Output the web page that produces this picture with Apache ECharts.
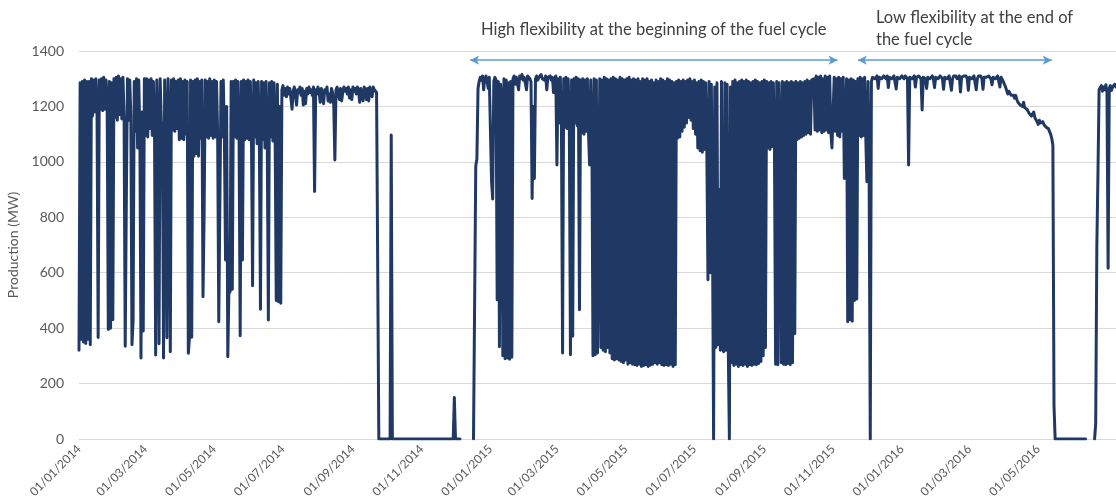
<!DOCTYPE html>
<html>
<head>
<meta charset="utf-8">
<script src="https://cdn.jsdelivr.net/npm/echarts@6/dist/echarts.min.js"></script>
<style>
  html, body { margin: 0; padding: 0; background: #fff; }
  #chart { width: 1116px; height: 504px; }
</style>
</head>
<body>
<div id="chart"></div>
<script>
// net production (MW), one value per day counted from the start date
const cycle2014Start = '2014-01-01'
const cycle2014 = [
  320, 1285, 360, 1290, 350, 1295, 345, 1290, 360, 1290,
  340, 1300, 1165, 1295, 1180, 1300, 1175, 366, 1295, 1190,
  1300, 1185, 1305, 1190, 1295, 1200, 395, 1290, 400, 1285,
  430, 1300, 1160, 1305, 1150, 1310, 1170, 1300, 1155, 1305,
  1160, 335, 870, 1300, 1150, 1295, 1165, 340, 430, 1290,
  1110, 1300, 1050, 1295, 1100, 292, 1180, 390, 1300, 1095,
  1300, 1090, 1295, 1120, 1300, 1095, 1290, 1110, 303, 1295,
  1115, 344, 1300, 1150, 1120, 292, 1295, 1115, 365, 1300,
  1120, 315, 1295, 1115, 1300, 1110, 1290, 1120, 1295, 1080,
  1300, 1085, 1290, 1080, 1295, 1100, 1290, 309, 367, 1295,
  367, 1290, 1020, 1295, 1030, 1300, 1020, 1290, 1085, 1295,
  513, 808, 1295, 1090, 1290, 1085, 1300, 1095, 1290, 1085,
  1295, 1090, 1290, 1100, 423, 425, 1290, 1090, 1295, 1085,
  646, 1200, 297, 540, 530, 1290, 540, 1290, 1091, 1295,
  1085, 1290, 1095, 373, 1290, 646, 1295, 1080, 1290, 1085,
  1295, 1080, 1290, 1090, 553, 1295, 1090, 1285, 1065, 1290,
  1080, 468, 1290, 1080, 1285, 1050, 1290, 1075, 429, 1285,
  1090, 1290, 1075, 1285, 1095, 500, 1280, 495, 1200, 490,
  1260, 1275, 1240, 1265, 1235, 1270, 1245, 1265, 1230, 1190,
  1255, 1270, 1240, 1205, 1260, 1250, 1270, 1240, 1265, 1205,
  1255, 1210, 1265, 1245, 1270, 1250, 1260, 1240, 1270, 893,
  1260, 1245, 1270, 1250, 1215, 1265, 1240, 1210, 1260, 1250,
  1270, 1220, 1245, 1215, 1265, 1250, 1205, 1007, 1260, 1270,
  1245, 1225, 1265, 1220, 1250, 1270, 1255, 1265, 1245, 1270,
  1230, 1260, 1225, 1270, 1255, 1265, 1245, 1270, 1260, 1215,
  1265, 1250, 1220, 1270, 1260, 1225, 1265, 1220, 1270, 1255,
  1235, 1270, 1260, 1265, 1250, 1255
]
// refuelling outage: [date, MW], null = no record
const outage2014 = [
  ['2014-09-24', 0], ['2014-10-04', 0], ['2014-10-05', 1097], ['2014-10-06', 0],
  ['2014-11-29', 0], ['2014-11-30', 150], ['2014-12-01', 0], ['2014-12-05', 0],
  ['2014-12-06', null]
]
const cycle2015Start = '2014-12-17'
const cycle2015 = [
  0, 495, 985, 1010, 1265, 1290, 1305, 1295, 1310, 1260,
  1300, 1310, 1295, 1265, 1305, 1300, 930, 866, 1290, 1305,
  1295, 502, 1290, 333, 1280, 1230, 300, 1300, 290, 1295,
  292, 1285, 288, 1290, 295, 1300, 1310, 1280, 1305, 1300,
  1260, 1310, 1300, 1315, 1295, 1305, 1300, 1260, 1310, 1305,
  1300, 1290, 868, 1200, 940, 1300, 1310, 1295, 1305, 1300,
  1315, 1300, 1305, 1295, 1310, 1260, 1305, 1300, 1310, 1295,
  1305, 1250, 1300, 1310, 989, 1300, 1140, 1305, 1130, 310,
  1300, 1125, 1305, 1120, 1300, 1135, 304, 1295, 371, 1300,
  1140, 1305, 1130, 1300, 466, 1295, 1105, 1300, 1100, 1295,
  1110, 1300, 1105, 989, 1295, 1100, 300, 1300, 304, 1295,
  310, 304, 1300, 330, 1295, 320, 1305, 315, 1300, 330,
  1295, 310, 1300, 290, 1305, 285, 1300, 290, 1295, 285,
  1305, 280, 1300, 275, 1295, 285, 1300, 270, 1305, 275,
  1295, 270, 1300, 268, 1295, 265, 1300, 270, 1290, 262,
  1300, 265, 1295, 268, 1300, 262, 1290, 266, 1295, 270,
  1285, 275, 1295, 270, 1290, 275, 1300, 268, 1295, 265,
  1290, 268, 1300, 265, 1295, 270, 1290, 262, 1285, 268,
  1290, 1085, 1295, 1090, 1290, 1110, 1295, 1125, 1290, 1140,
  1295, 1160, 1300, 1150, 1290, 1120, 1295, 1100, 1285, 1050,
  1290, 1040, 1295, 1035, 1290, 1045, 1285, 1040, 575, 1290,
  600, 1280, 760, 0, 1270, 330, 1285, 340, 900, 320,
  1290, 325, 315, 1285, 320, 1280, 330, 0, 1270, 275,
  1290, 265, 1295, 270, 1285, 262, 1290, 268, 1295, 265,
  1290, 270, 1295, 262, 1290, 268, 1285, 265, 1290, 270,
  1295, 268, 1290, 272, 1285, 280, 1290, 300, 1295, 330,
  1290, 1050, 1285, 1045, 1290, 1055, 1285, 1045, 270, 1290,
  268, 1285, 1080, 275, 1290, 270, 1285, 268, 1290, 272,
  1285, 268, 1290, 275, 1285, 380, 1290, 1080, 1285, 1085,
  1290, 1090, 1285, 1095, 1290, 1100, 1295, 1105, 1290, 1100,
  1295, 1290, 1300, 1115, 1310, 1110, 1305, 1115, 1310, 1105,
  1300, 1110, 1310, 1115, 1305, 1105, 1310, 1110, 1050, 1043,
  1305, 1110, 1300, 1095, 1305, 1090, 1300, 1110, 1305, 940,
  947, 1300, 423, 1295, 430, 1300, 425, 1295, 500, 1290,
  505, 1300, 1095, 1305, 1090, 1300, 1095, 1305, 1090, 928,
  1290, 935, 0, 1290, 1305, 1310, 1300, 1305, 1310, 1265,
  1305, 1310, 1300, 1305, 1310, 1305, 1300, 1310, 1268, 1305,
  1310, 1300, 1305, 1310, 1305, 1263, 1305, 1310, 1300, 1305,
  1310, 1305, 1300, 1310, 1305, 1300, 989, 1305, 1310, 1300,
  1305, 1310, 1270, 1305, 1300, 1310, 1305, 1300, 1187, 1305,
  1310, 1300, 1265, 1305, 1310, 1300, 1305, 1310, 1300, 1268,
  1305, 1310, 1300, 1305, 1310, 1305, 1300, 1262, 1305, 1310,
  1300, 1305, 1310, 1305, 1258, 1300, 1310, 1305, 1310, 1300,
  1305, 1310, 1252, 1305, 1300, 1310, 1305, 1310, 1300, 1258,
  1305, 1310, 1300, 1305, 1310, 1305, 1260, 1300, 1310, 1305,
  1310, 1300, 1262, 1305, 1310, 1305, 1300, 1310, 1305, 1300,
  1278, 1305, 1310, 1300, 1305, 1310, 1305, 1270, 1305, 1300,
  1290, 1280, 1270, 1275, 1245, 1255, 1250, 1240, 1235, 1240,
  1230, 1240, 1225, 1215, 1220, 1205, 1210, 1200, 1215, 1195,
  1200, 1190, 1185, 1175, 1180, 1165, 1170, 1180, 1160, 1165,
  1145, 1135, 1150, 1140, 1135, 1145, 1135, 1140, 1125, 1130,
  1120, 1110, 1100, 1085, 1060, 120, 0
]
const outage2016 = [['2016-06-12', 0], ['2016-06-13', null]]
const restart2016Start = '2016-06-20'
const restart2016 = [
  0, 56, 694, 959, 1260, 1262, 1275, 1255, 1270, 1260,
  1278, 1250, 616, 1265, 1275, 1258, 1270, 1265, 1280, 1270
]

const axisStart = '2014-01-01'
const axisEnd = '2016-07-09'
const labelDates = [
  '2014-01-01', '2014-03-01', '2014-05-01', '2014-07-01', '2014-09-01', '2014-11-01',
  '2015-01-01', '2015-03-01', '2015-05-01', '2015-07-01', '2015-09-01', '2015-11-01',
  '2016-01-01', '2016-03-01', '2016-05-01'
]
// annotation arrows (start, end) and their height on the MW scale
const arrowSpans = [['2014-12-14', '2015-11-05'], ['2015-11-23', '2016-05-13']]
const arrowLevel = 1367

function toTime(s, addDays) {
  const p = s.split('-').map(Number)
  return new Date(p[0], p[1] - 1, p[2] + (addDays || 0)).getTime()
}
function daily(start, values) {
  return values.map((v, i) => [toTime(start, i), v])
}
function sparse(points) {
  return points.map(p => [toTime(p[0]), p[1]])
}
function pad(n) {
  return n < 10 ? '0' + n : '' + n
}

const seriesData = [].concat(
  daily(cycle2014Start, cycle2014),
  sparse(outage2014),
  daily(cycle2015Start, cycle2015),
  sparse(outage2016),
  daily(restart2016Start, restart2016)
)

const font = 'Lato'
const chart = echarts.init(document.getElementById('chart'))

chart.setOption({
  animation: false,
  backgroundColor: '#fff',
  grid: {left: 79, right: 0, top: 51, bottom: 65, containLabel: false, outerBoundsMode: 'none'},
  xAxis: {
    // timestamps on a plain value scale so the labels can sit on month starts
    type: 'value',
    min: toTime(axisStart),
    max: toTime(axisEnd),
    scale: true,
    axisLine: {show: true, lineStyle: {color: '#d9d9d9', width: 1}},
    axisTick: {show: false},
    splitLine: {show: false},
    axisLabel: {
      customValues: labelDates.map(d => toTime(d)),
      rotate: 45,
      margin: 8,
      hideOverlap: false,
      color: '#595959',
      fontFamily: font,
      fontSize: 12,
      formatter: v => {
        const d = new Date(v)
        return pad(d.getDate()) + '/' + pad(d.getMonth() + 1) + '/' + d.getFullYear()
      }
    }
  },
  yAxis: {
    type: 'value',
    min: 0,
    max: 1400,
    interval: 200,
    name: 'Production (MW)',
    nameLocation: 'middle',
    nameGap: 46,
    nameTextStyle: {color: '#595959', fontFamily: font, fontSize: 14},
    axisLine: {show: false},
    axisTick: {show: false},
    axisLabel: {color: '#595959', fontFamily: font, fontSize: 14, margin: 15, formatter: v => String(v)},
    splitLine: {lineStyle: {color: '#d9d9d9', width: 1}}
  },
  series: [{
    type: 'line',
    data: seriesData,
    showSymbol: false,
    symbol: 'none',
    connectNulls: false,
    lineStyle: {color: '#1f3864', width: 3, join: 'round', cap: 'round'},
    markLine: {
      silent: true,
      symbol: ['arrow', 'arrow'],
      symbolSize: [7, 9],
      label: {show: false},
      lineStyle: {color: '#5b9bd5', width: 1.5, type: 'solid'},
      data: arrowSpans.map(s => [
        {coord: [toTime(s[0]), arrowLevel]},
        {coord: [toTime(s[1]), arrowLevel]}
      ])
    }
  }],
  graphic: [
    {
      type: 'text',
      left: 481,
      top: 21,
      style: {text: 'High flexibility at the beginning of the fuel cycle', fill: '#404040', font: '16.5px ' + font}
    },
    {
      type: 'text',
      left: 876,
      top: 7,
      style: {text: 'Low flexibility at the end of\nthe fuel cycle', fill: '#404040', font: '16.5px ' + font, lineHeight: 22}
    }
  ]
})
</script>
</body>
</html>
